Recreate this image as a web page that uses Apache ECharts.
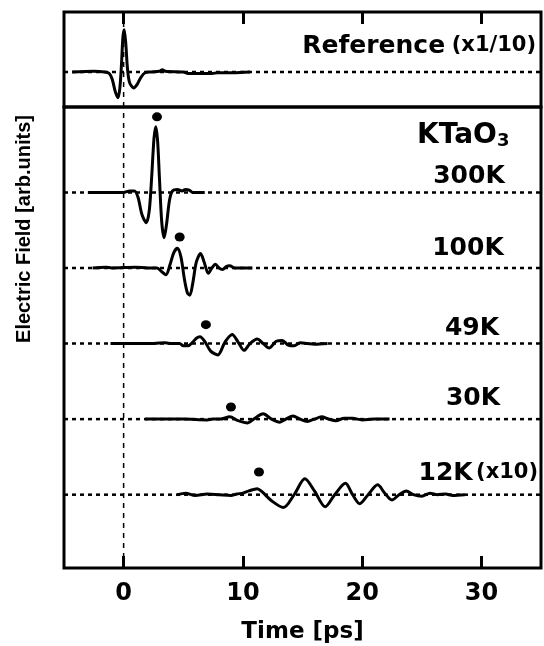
<!DOCTYPE html>
<html style="height: 100%">
<head>
<meta charset="utf-8">
<style>
  html, body { margin: 0; height: 100%; background: #fff; }
  #main { width: 544px; height: 646px; }
</style>
</head>
<body>
<div id="main"></div>
<script src="https://cdn.jsdelivr.net/npm/echarts@6/dist/echarts.min.js"></script>
<script>
// time axis ticks (ps)
var ticks = [0, 10, 20, 30];

// reference pulse (x1/10), [time ps, field]
var refTrace = [[-4.3,0],[-2.5,0.01],[-1.6,0],[-1.2,-0.02],[-0.95,-0.1],[-0.7,-0.26],[-0.48,-0.34],[-0.32,-0.22],
  [-0.18,0.1],[-0.06,0.46],[0.05,0.56],[0.18,0.38],[0.32,0.05],[0.5,-0.14],[0.85,-0.21],[1.15,-0.16],[1.45,-0.07],
  [1.8,-0.01],[2.3,0],[3.0,0.01],[3.25,0.03],[3.5,0.01],[5.0,0],[5.4,-0.02],[7.4,-0.02],[7.9,-0.01],[9.2,-0.01],[10.6,0]];

// KTaO3 transients, [time ps, field] relative to each baseline
var k300 = [[-3.0,0],[-1.0,0],[0.0,0],[0.5,0.02],[0.9,0.02],[1.2,-0.06],[1.55,-0.3],[1.9,-0.4],[2.15,-0.24],
  [2.35,0.2],[2.55,0.72],[2.7,0.87],[2.85,0.68],[3.0,0.2],[3.2,-0.4],[3.4,-0.6],[3.6,-0.42],[3.85,-0.1],[4.1,0.02],
  [4.5,0.04],[4.9,0.02],[5.2,0.04],[5.5,0.03],[5.8,0],[6.8,0]];
var k100 = [[-2.6,0],[-1.5,0.01],[-1.0,0],[1.0,0.01],[2.0,0],[2.8,0],[3.2,-0.05],[3.55,-0.09],[3.9,0.05],[4.2,0.2],
  [4.5,0.26],[4.8,0.15],[5.1,-0.15],[5.35,-0.33],[5.55,-0.36],[5.8,-0.2],[6.1,0.08],[6.45,0.19],[6.75,0.08],[7.1,-0.07],
  [7.4,0],[7.7,0.05],[8.0,0],[8.3,-0.02],[8.6,0.02],[8.9,0.03],[9.3,0],[10.8,0]];
var k49 = [[-1.1,0],[2.0,0],[3.5,0.01],[4.0,0],[4.7,0],[5.0,-0.03],[5.4,-0.03],[5.8,0.02],[6.1,0.07],[6.4,0.09],
  [6.8,0.03],[7.3,-0.1],[7.9,-0.15],[8.5,0.02],[9.1,0.12],[9.6,0.02],[10.1,-0.09],[10.6,0],[11.2,0.06],[11.7,0],
  [12.2,-0.06],[12.8,0.03],[13.3,0.04],[13.8,-0.02],[14.3,-0.03],[14.8,0.01],[15.4,0],[16.0,-0.01],[17.1,0]];
var k30 = [[1.8,0],[5.0,0],[7.0,-0.01],[7.5,0],[8.1,0],[8.9,0.03],[9.6,-0.02],[10.4,-0.05],[11.0,0.01],[11.7,0.07],
  [12.4,0],[13.1,-0.04],[13.6,0],[14.2,0.04],[14.8,0],[15.4,-0.03],[16.0,0],[16.6,0.03],[17.2,0],[17.8,-0.02],
  [18.5,0.01],[19.2,0.01],[20.0,-0.01],[21.0,0],[22.3,0]];
var k12 = [[4.5,0],[5.2,0.02],[6.0,-0.01],[7.0,0.01],[8.0,0],[9.0,-0.01],[9.5,0.01],[10.0,0.02],[10.5,0.05],
  [11.2,0.08],[11.6,0.04],[12.4,-0.08],[13.4,-0.17],[14.3,0],[15.2,0.21],[16.0,0.05],[16.9,-0.16],[17.7,0],
  [18.6,0.15],[19.2,0],[19.8,-0.12],[20.5,0],[21.3,0.13],[21.9,0.02],[22.5,-0.07],[23.1,0],[23.7,0.05],[24.3,0],
  [25.0,-0.02],[25.7,0.02],[26.3,0],[27.0,0.01],[27.6,-0.01],[28.6,0]];

var temps = ['300K', '100K', '49K', '30K', '12K'];
var offsets = [4, 3, 2, 1, 0];
// peak markers (time, height above baseline)
var dotT = [2.8, 4.7, 6.9, 9.0, 11.35];
var dotV = [1.0, 0.41, 0.25, 0.16, 0.30];

var traces = [k300, k100, k49, k30, k12];

var chart = echarts.init(document.getElementById('main'));
var black = '#000';
var txtFont = 'DejaVu Sans';

function shift(arr, off) {
  return arr.map(function (p) { return [p[0], p[1] + off]; });
}

var series = [];
// dotted baselines
series.push({
  type: 'line', xAxisIndex: 0, yAxisIndex: 0, symbol: 'none', silent: true,
  lineStyle: { color: black, width: 2.5, type: [4, 4] },
  data: [[-5, 0], [35, 0]]
});
offsets.forEach(function (o) {
  series.push({
    type: 'line', xAxisIndex: 1, yAxisIndex: 1, symbol: 'none', silent: true,
    lineStyle: { color: black, width: 2.5, type: [4, 4] },
    data: [[-5, o], [35, o]]
  });
});
// t = 0 guide
series.push({
  type: 'line', xAxisIndex: 0, yAxisIndex: 0, symbol: 'none', silent: true,
  lineStyle: { color: black, width: 1.5, type: [5, 5] },
  data: [[0, -0.463], [0, 0.794]]
});
series.push({
  type: 'line', xAxisIndex: 1, yAxisIndex: 1, symbol: 'none', silent: true,
  lineStyle: { color: black, width: 1.5, type: [5, 5] },
  data: [[0, -0.97], [0, 5.13]]
});
// waveforms
series.push({
  type: 'line', xAxisIndex: 0, yAxisIndex: 0, symbol: 'none', smooth: 0.3,
  lineStyle: { color: black, width: 3 }, data: refTrace
});
traces.forEach(function (tr, i) {
  series.push({
    name: temps[i], type: 'line', xAxisIndex: 1, yAxisIndex: 1, symbol: 'none', smooth: 0.3,
    lineStyle: { color: black, width: 3 }, data: shift(tr, offsets[i])
  });
});
// peak dots
series.push({
  type: 'scatter', xAxisIndex: 1, yAxisIndex: 1, symbol: 'circle', symbolSize: [10, 9],
  itemStyle: { color: black, opacity: 1 },
  data: dotT.map(function (t, i) { return [t, dotV[i] + offsets[i]]; })
});

var tickStyle = { color: black, width: 3 };

var option = {
  backgroundColor: '#fff',
  animation: false,
  grid: [
    { left: 64, top: 12, width: 477, height: 95, show: true, borderColor: black, borderWidth: 3, outerBoundsMode: 'none' },
    { left: 64, top: 107, width: 477, height: 461, show: true, borderColor: black, borderWidth: 3, outerBoundsMode: 'none' }
  ],
  xAxis: [{
    gridIndex: 0, type: 'value', min: -5, max: 35, position: 'top',
    axisLine: { show: false, onZero: false },
    axisTick: { show: true, inside: true, length: 12, customValues: ticks, lineStyle: tickStyle },
    axisLabel: { show: false },
    splitLine: { show: false }
  }, {
    gridIndex: 1, type: 'value', min: -5, max: 35, position: 'bottom',
    axisLine: { show: false, onZero: false },
    axisTick: { show: true, inside: true, length: 12, customValues: ticks, lineStyle: tickStyle },
    axisLabel: { customValues: ticks, margin: 14, color: black, fontSize: 24, fontWeight: 'bold', fontFamily: txtFont },
    splitLine: { show: false },
    name: 'Time [ps]', nameLocation: 'middle', nameGap: 53,
    nameTextStyle: { color: black, fontSize: 23, fontWeight: 'bold', fontFamily: txtFont }
  }],
  yAxis: [
    { gridIndex: 0, type: 'value', min: -0.463, max: 0.794, show: false },
    { gridIndex: 1, type: 'value', min: -0.97, max: 5.13, show: false }
  ],
  graphic: [
    {
      type: 'text', x: 24, y: 229, rotation: Math.PI / 2,
      style: { text: 'Electric Field [arb.units]', fill: black, font: 'bold 20px "Liberation Sans"',
        textAlign: 'center', textVerticalAlign: 'middle' }
    },
    {
      type: 'text', x: 536, y: 46,
      style: {
        text: '{a|Reference}  {b|(x1/10)}', textAlign: 'right', textVerticalAlign: 'middle',
        rich: {
          a: { fontSize: 25, fontWeight: 'bold', fontFamily: txtFont, fill: black },
          b: { fontSize: 21, fontWeight: 'bold', fontFamily: txtFont, fill: black }
        }
      }
    },
    {
      type: 'text', x: 417, y: 136,
      style: {
        text: '{a|KTaO}{s|3}', textAlign: 'left', textVerticalAlign: 'middle',
        rich: {
          a: { fontSize: 28, fontWeight: 'bold', fontFamily: txtFont, fill: black, verticalAlign: 'bottom' },
          s: { fontSize: 18, fontWeight: 'bold', fontFamily: txtFont, fill: black, verticalAlign: 'bottom' }
        }
      }
    },
    { type: 'text', x: 469, y: 176, style: { text: temps[0], fill: black, font: 'bold 25px "DejaVu Sans"', textAlign: 'center', textVerticalAlign: 'middle' } },
    { type: 'text', x: 468, y: 248, style: { text: temps[1], fill: black, font: 'bold 25px "DejaVu Sans"', textAlign: 'center', textVerticalAlign: 'middle' } },
    { type: 'text', x: 472, y: 328, style: { text: temps[2], fill: black, font: 'bold 25px "DejaVu Sans"', textAlign: 'center', textVerticalAlign: 'middle' } },
    { type: 'text', x: 473, y: 398, style: { text: temps[3], fill: black, font: 'bold 25px "DejaVu Sans"', textAlign: 'center', textVerticalAlign: 'middle' } },
    {
      type: 'text', x: 538, y: 473,
      style: {
        text: '{a|' + temps[4] + '} {b|(x10)}', textAlign: 'right', textVerticalAlign: 'middle',
        rich: {
          a: { fontSize: 25, fontWeight: 'bold', fontFamily: txtFont, fill: black },
          b: { fontSize: 21, fontWeight: 'bold', fontFamily: txtFont, fill: black }
        }
      }
    }
  ],
  series: series
};

chart.setOption(option);
</script>
</body>
</html>
